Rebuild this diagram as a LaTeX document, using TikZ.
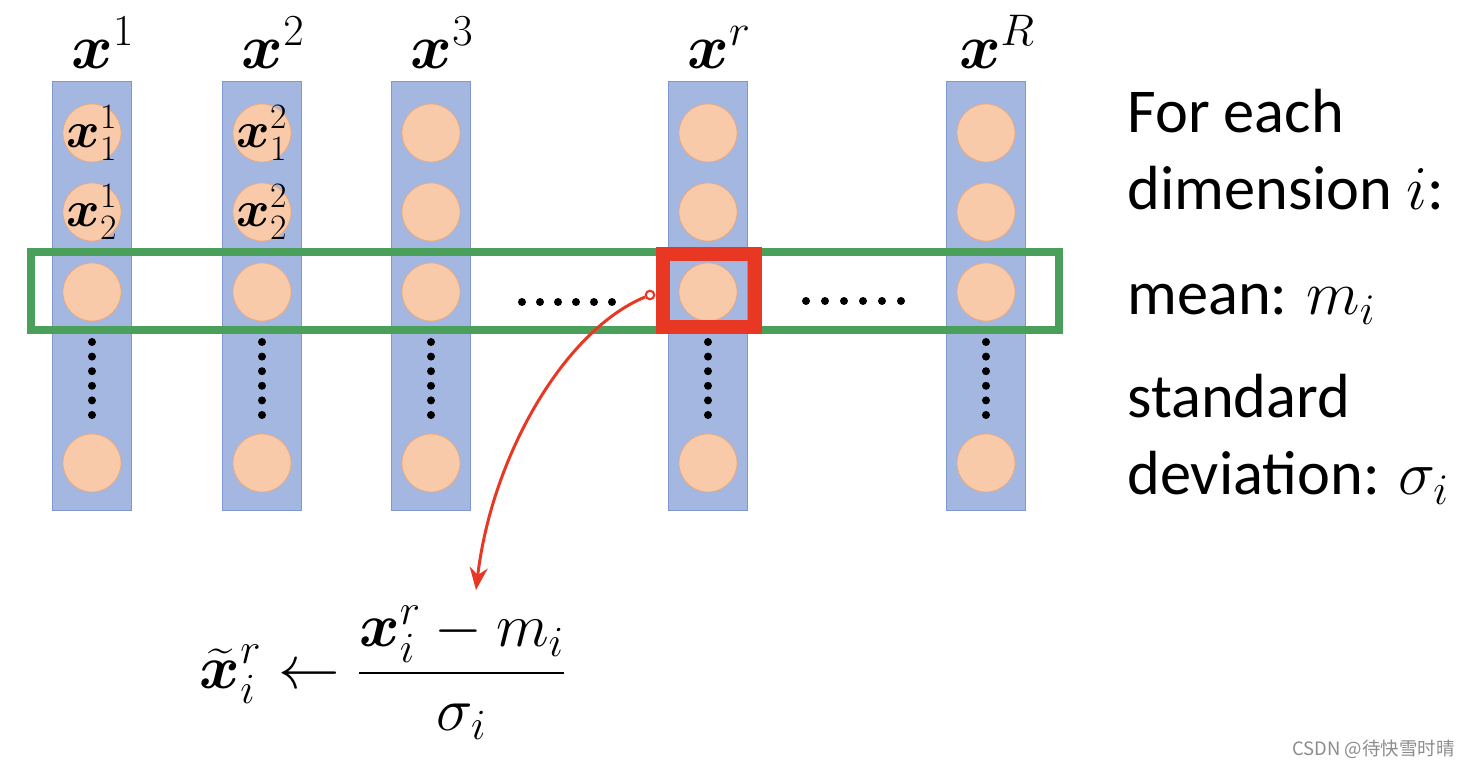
\RequirePackage{fix-cm}
\documentclass[tikz,border=0pt]{standalone}
\usepackage{amsmath}
\usepackage{fontspec}
\setmainfont{Carlito}
\newfontfamily\cjk{Noto Sans CJK SC}
\usetikzlibrary{arrows.meta,positioning}
\definecolor{barblue}{RGB}{164,183,225}
\definecolor{barline}{RGB}{128,152,208}
\definecolor{cellfill}{RGB}{248,202,170}
\definecolor{cellline}{RGB}{238,168,118}
\definecolor{rowgreen}{RGB}{74,160,90}
\definecolor{pickred}{RGB}{232,56,36}
\tikzset{%
	bar/.style      = {draw=barline, fill=barblue, rectangle, minimum width=1.58cm, minimum height=8.58cm, inner sep=0pt},
	cell/.style     = {draw=cellline, fill=cellfill, circle, minimum size=1.16cm, inner sep=0pt}, % one value
	head/.style     = {inner sep=0pt, font=\fontsize{36}{42}\selectfont},
	celltext/.style = {inner sep=0pt, font=\fontsize{29}{34}\selectfont},
	txt/.style      = {inner sep=0pt, anchor=base west, font=\fontsize{35.5}{42}\selectfont},
	arrow/.style    = {pickred, line width=0.06cm, -{Stealth[length=0.45cm,width=0.36cm]}},
}

\begin{document}
\begin{tikzpicture}[x=0.02cm,y=-0.02cm]
		\useasboundingbox (0,0) rectangle (1470,766);
		
		% columns x^1 ... x^R
		\foreach \n/\cx in {1/92,2/262,3/431,r/708,R/986}{
			\node [bar] (bar\n) at (\cx,295.5) {};
			\node [head] (head\n) [above=0.24cm of bar\n, xshift=0.22cm] {$\boldsymbol{x}^{\n}$};
			\node [cell] (cell\n-1) at (\cx,133) {};
			\node [cell] (cell\n-2) at (\cx,212) {};
			\node [cell] (cell\n-3) at (\cx,292) {};
			\node [cell] (cell\n-4) at (\cx,463) {};
			\foreach \k in {0,...,5}
				\fill (\cx,342+14.6*\k) circle (0.08cm);
		}
		\node [celltext] at (cell1-1) {$\boldsymbol{x}^1_1$};
		\node [celltext] at (cell1-2) {$\boldsymbol{x}^1_2$};
		\node [celltext] at (cell2-1) {$\boldsymbol{x}^2_1$};
		\node [celltext] at (cell2-2) {$\boldsymbol{x}^2_2$};
		
		% dimension i over all examples
		\foreach \k in {0,...,5}{
			\fill (522+18*\k,302) circle (0.08cm);
			\fill (806+19*\k,301) circle (0.08cm);
		}
		\node [draw=rowgreen, line width=0.16cm, minimum width=20.56cm, minimum height=1.56cm, inner sep=0pt] (row) at (545,291) {};
		\node [draw=pickred, line width=0.28cm, minimum width=1.84cm, minimum height=1.46cm, inner sep=0pt] (pick) at (709,290.5) {};
		
		% update rule
		\node [inner sep=0pt, font=\fontsize{35}{42}\selectfont] (rule) at (383,673) {$\displaystyle \widetilde{\boldsymbol{x}}^r_i \leftarrow \frac{\boldsymbol{x}^r_i - m_i}{\sigma_i}$};
		\node [draw=pickred, fill=white, circle, line width=1.2pt, minimum size=0.17cm, inner sep=0pt] (src) at (650,295) {};
		\coordinate (tip) at (476,590);
		\draw[arrow] (src) .. controls (565,330) and (492,455) .. (tip);
		
		\node [txt] (t1) at (1127,133) {For each};
		\node [txt] (t2) at (1127,210) {dimension $i$:};
		\node [txt] (t3) at (1127,315) {mean: $m_i$};
		\node [txt] (t4) at (1127,418) {standard};
		\node [txt] (t5) at (1127,495) {deviation: $\sigma_i$};
		
		\node [anchor=base east, inner sep=0pt, text=black!45, font=\cjk\fontsize{10.5}{12}\selectfont] (mark) at (1455,755) {CSDN @待快雪时晴};
		\end{tikzpicture}
\end{document}
